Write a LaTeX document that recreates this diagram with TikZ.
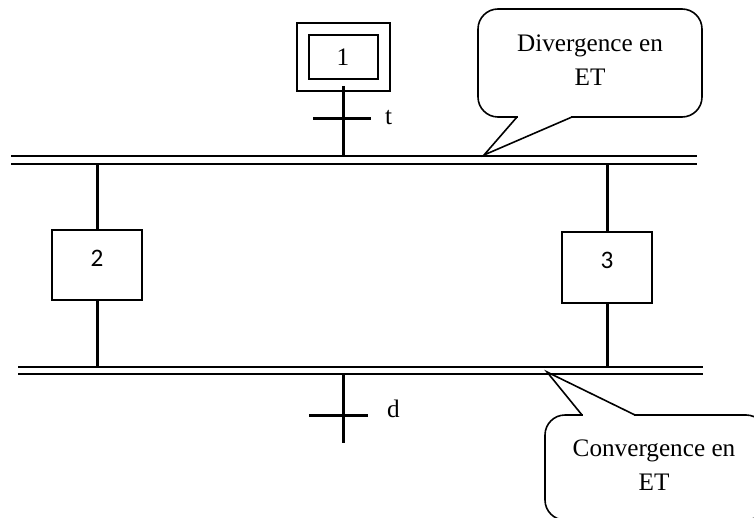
\documentclass[tikz,border=0pt]{standalone}
\usepackage{fontspec}
\setmainfont{Liberation Serif}
\newfontfamily\digitfont{Carlito}
\begin{document}
\begin{tikzpicture}[x=0.5pt, y=-0.5pt,
    every node/.style={font=\fontsize{12.6}{17}\selectfont},
    stepbox/.style={draw, line width=1pt, minimum width=45pt, minimum height=35pt, inner sep=0pt, text height=8pt, text depth=7pt, font=\digitfont\fontsize{12.6}{15}\selectfont},
    initstep/.style={draw, double, line width=1pt, double distance=5pt, minimum width=40.5pt, minimum height=28pt, inner sep=0pt},
    link/.style={line width=1.5pt},
    bar/.style={line width=1.3pt},
    bubble/.style={line width=0.8pt, rounded corners=10pt},
    pointer/.style={line width=0.8pt}]
    \useasboundingbox (0,0) rectangle (754,518);
    % steps
    \node[initstep] (s1) at (343,57) {1};
    \node[stepbox] (s2) at (97,265) {2};
    \node[stepbox] (s3) at (607,267.5) {3};
    % double bars
    \coordinate (divA) at (11,156);  \coordinate (divB) at (697,156);
    \coordinate (divC) at (11,164);  \coordinate (divD) at (697,164);
    \coordinate (conA) at (18,367);  \coordinate (conB) at (703,367);
    \coordinate (conC) at (18,374);  \coordinate (conD) at (703,374);
    \draw[bar] (divA) -- (divB);
    \draw[bar] (divC) -- (divD);
    \draw[bar] (conA) -- (conB);
    \draw[bar] (conC) -- (conD);
    % transitions
    \coordinate (t1) at (343,119);
    \coordinate (t2) at (343,415);
    \coordinate (end) at (343,443);
    \draw[link] (s1.south) -- (s1.south |- divA);
    \draw[link] ([xshift=-15pt]t1) -- ([xshift=14pt]t1);
    \node[anchor=west] (lt) at (378,118) {t};
    \draw[link] (s2.north |- divC) -- (s2.north);
    \draw[link] (s3.north |- divC) -- (s3.north);
    \draw[link] (s2.south) -- (s2.south |- conA);
    \draw[link] (s3.south) -- (s3.south |- conA);
    \draw[link] (t2 |- conC) -- (end);
    \draw[link] ([xshift=-17pt]t2) -- ([xshift=12.5pt]t2);
    \node[anchor=west] (ld) at (380,409) {d};
    % callouts
    \draw[bubble] (478,9) rectangle (702,117);
    \draw[white, line width=1.6pt] (518,117) -- (571,117);
    \draw[pointer] (517,117) -- (484,155) -- (572,117);
    \node[align=center] (cdiv) at (590,60) {Divergence en\\ET};
    \draw[bubble] (545,415) rectangle (766,520);
    \draw[white, line width=1.6pt] (583,415) -- (634,415);
    \draw[pointer] (582,415) -- (547,372) -- (635,415);
    \node[align=center] (ccon) at (654,465) {Convergence en\\ET};
\end{tikzpicture}
\end{document}
